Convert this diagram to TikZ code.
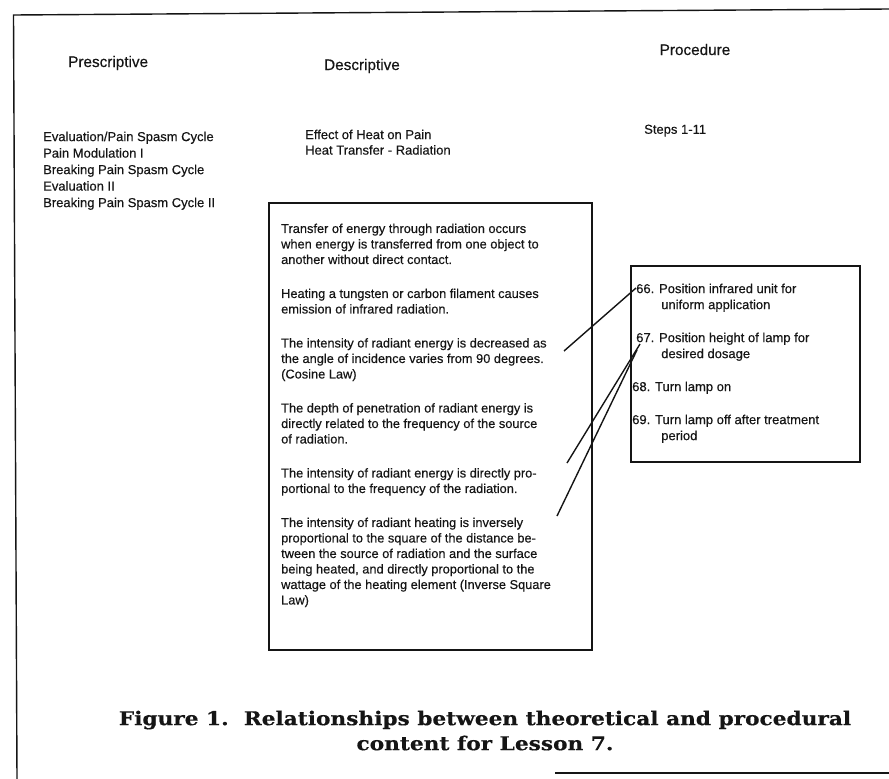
\documentclass[tikz,border=0pt]{standalone}
\usepackage{fontspec}
\setmainfont{Liberation Sans}[FakeBold=0.35]
\newfontfamily\capfont{DejaVu Serif}[FakeStretch=1.14,BoldFeatures={FakeStretch=1.14,FakeBold=0.4}]
\definecolor{tinte}{HTML}{151515}
\tikzset{
  rahmen/.style={tinte,line width=1.4pt},
  kasten/.style={draw=tinte,line width=1.6pt,inner sep=0pt,anchor=north west},
  verb/.style={tinte,line width=1.4pt},
  kopf/.style={tinte,inner sep=0pt,font=\fontsize{15.3}{18}\selectfont},
  txt/.style={tinte,inner sep=0pt,anchor=north west,align=left,font=\fontsize{13}{16.5}\selectfont},
  txtb/.style={txt,font=\fontsize{12.8}{15.5}\selectfont},
  txtp/.style={txt,font=\fontsize{13}{16}\selectfont},
  titel/.style={tinte,inner sep=0pt,anchor=north,align=center,font=\capfont\bfseries\fontsize{19}{25}\selectfont},
}

\begin{document}
\begin{tikzpicture}[x=1pt,y=-1pt]
  \useasboundingbox (0,0) rectangle (889,779);
  \draw[rahmen] (17,779)--(13.5,15)--(889,9);
  \draw[rahmen] (555,773)--(889,773);
  \node[kopf,anchor=base west] (presk) at (68,67) {Prescriptive};
  \node[kopf,anchor=base] (desk) at (362,70) {Descriptive};
  \node[kopf,anchor=base] (prok) at (695,55) {Procedure};
  \node[txt] (presl) at (43,131.5) {Evaluation/Pain Spasm Cycle\\Pain Modulation I\\Breaking Pain Spasm Cycle\\Evaluation II\\Breaking Pain Spasm Cycle II};
  \node[txt,font=\fontsize{13}{15.5}\selectfont] (desl) at (305,129.5) {Effect of Heat on Pain\\Heat Transfer - Radiation};
  \node[txt] (steps) at (644,124.5) {Steps 1-11};
  \node[kasten,minimum width=323,minimum height=447] (descbox) at (268,202) {};
  \node[txtb] (desct) at (281,223.5) {Transfer of energy through radiation occurs\\
    when energy is transferred from one object to\\another without direct contact.\\[18.5pt]
    Heating a tungsten or carbon filament causes\\emission of infrared radiation.\\[18.5pt]
    The intensity of radiant energy is decreased as\\the angle of incidence varies from 90 degrees.\\(Cosine Law)\\[18.5pt]
    The depth of penetration of radiant energy is\\directly related to the frequency of the source\\of radiation.\\[18.5pt]
    The intensity of radiant energy is directly pro-\\portional to the frequency of the radiation.\\[18.5pt]
    The intensity of radiant heating is inversely\\proportional to the square of the distance be-\\tween the source of radiation and the surface\\being heated, and directly proportional to the\\wattage of the heating element (Inverse Square\\Law)};
  \node[kasten,minimum width=229,minimum height=196] (probox) at (630,265) {};
  \node[txtp] (prot) at (636,283.5) {66. Position infrared unit for\\\phantom{66. }\,uniform application\\[17pt]
    67. Position height of lamp for\\\phantom{66. }\,desired dosage\\[17pt]
    \hspace{-4pt}68. Turn lamp on\\[17pt]
    \hspace{-4pt}69. Turn lamp off after treatment\\\phantom{66. }\,period};
  \coordinate (cosl) at (564,351);
  \coordinate (freq) at (567,463);
  \coordinate (quad) at (557,516);
  \coordinate (s66) at (636,288);
  \coordinate (s67a) at (640,344);
  \coordinate (s67b) at (637,350);
  \draw[verb] (cosl)--(s66);
  \draw[verb] (freq)--(s67a);
  \draw[verb] (quad)--(s67b);
  \node[titel] (cap) at (485,710.5) {Figure 1.\ \ Relationships between theoretical and procedural\\content for Lesson 7.};
\end{tikzpicture}
\end{document}
